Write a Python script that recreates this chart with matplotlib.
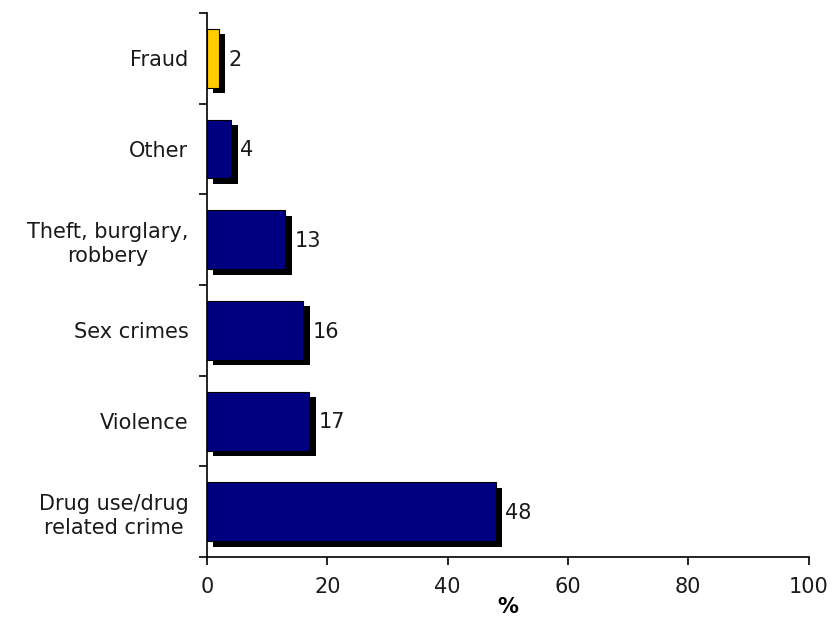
import matplotlib
matplotlib.use("Agg")
import matplotlib.pyplot as plt
import matplotlib.patheffects as pe
import numpy as np

categories = ["Drug use/drug\nrelated crime", "Violence", "Sex crimes",
              "Theft, burglary,\nrobbery", "Other", "Fraud"]
values = [48, 17, 16, 13, 4, 2]
colors = ["#000080", "#000080", "#000080", "#000080", "#000080", "#FFCC00"]
xticks = [0, 20, 40, 60, 80, 100]

plt.rcParams["font.family"] = ["DejaVu Sans"]
FS = 15
TXT = "#1a1a1a"

fig = plt.figure(figsize=(8.35, 6.17), dpi=100)
ax = fig.add_axes([0.248, 0.097, 0.7204, 0.882])

pos = np.arange(len(categories))
shadow = [pe.SimplePatchShadow(offset=(4.6, -4.0), shadow_rgbFace="black", alpha=1.0),
          pe.Normal()]
bars = ax.barh(pos, values, height=0.65, color=colors, edgecolor="black",
               linewidth=0.8, zorder=3)
for b in bars:
    b.set_path_effects(shadow)

for p, v in zip(pos, values):
    ax.annotate(str(v), xy=(v, p), xytext=(6.5, -1), textcoords="offset points",
                va="center", ha="left", fontsize=FS, color=TXT)

ax.set_xlim(0, 100)
ax.set_ylim(-0.5, len(categories) - 0.5)
ax.set_xticks(xticks)
ax.set_xticklabels([str(t) for t in xticks], fontsize=FS, color=TXT)
ax.set_yticks(pos)
ax.set_yticklabels(categories, fontsize=FS, color=TXT, ha="right",
                   multialignment="center", linespacing=1.25)
ax.tick_params(axis="y", which="major", length=0, pad=13.5)
ax.set_yticks(np.arange(-0.5, len(categories), 1.0), minor=True)
ax.tick_params(axis="y", which="minor", length=6, width=1.2, direction="out")
ax.tick_params(axis="x", length=6, width=1.2, direction="out", pad=8)

for s in ["top", "right"]:
    ax.spines[s].set_visible(False)
for s in ["left", "bottom"]:
    ax.spines[s].set_linewidth(1.2)

ax.set_xlabel("%", fontsize=FS, fontweight="bold", labelpad=0)

fig.savefig("out.png", dpi=100)
